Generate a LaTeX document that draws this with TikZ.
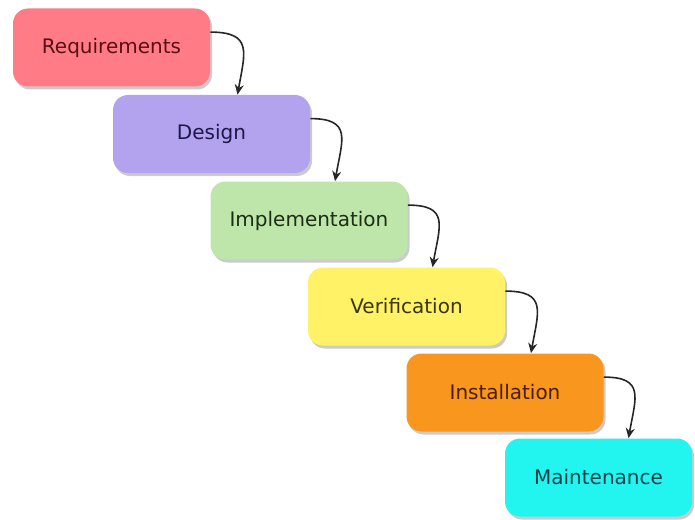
\documentclass[tikz,border=0pt]{standalone}
\usepackage{fontspec}
\setmainfont{DejaVu Sans}
\usetikzlibrary{shadows,arrows.meta}

\definecolor{reqfill}{HTML}{FF7B86}
\definecolor{desfill}{HTML}{B3A3EE}
\definecolor{impfill}{HTML}{BFE6AA}
\definecolor{verfill}{HTML}{FFF266}
\definecolor{insfill}{HTML}{F8961D}
\definecolor{maifill}{HTML}{22F4F0}
\definecolor{reqtext}{HTML}{5A0F14}
\definecolor{destext}{HTML}{1E1848}
\definecolor{imptext}{HTML}{1C2E14}
\definecolor{vertext}{HTML}{3A3608}
\definecolor{institle}{HTML}{4A1E02}
\definecolor{maitext}{HTML}{11424A}

\tikzset{
  phase/.style={rounded corners=7.5pt, minimum width=98.5pt, minimum height=39pt,
    font=\fontsize{10}{12}\selectfont, inner sep=0pt,
    drop shadow={shadow xshift=1pt, shadow yshift=-1.5pt, fill=black!45, opacity=0.45}},
  flow/.style={-{Stealth[length=5pt, width=4.5pt]}, thick, black!85}
}

\begin{document}
\begin{tikzpicture}[x=0.5pt, y=0.5pt]
      % Fix the margins of the picture
      \useasboundingbox (0,0) rectangle (695,-519);

      % Draw the phases as a staircase
      \node[phase, fill=reqfill, text=reqtext] (req) at (111.5,-47.5) {Requirements};
      \node[phase, fill=desfill, text=destext] (des) at (211.5,-134) {Design};
      \node[phase, fill=impfill, text=imptext] (imp) at (309,-220.5) {Implementation};
      \node[phase, fill=verfill, text=vertext] (ver) at (406.5,-306.5) {Verification};
      \node[phase, fill=insfill, text=institle] (ins) at (505,-392.5) {Installation};
      \node[phase, fill=maifill, text=maitext, minimum width=93.5pt] (mai) at (598.5,-477.5) {Maintenance};

      % Connect each phase to the next one
      \draw[flow] ([yshift=-12pt]req.north east) to[out=0, in=80, looseness=1.6] ([xshift=13pt]des.north);
      \draw[flow] ([yshift=-12pt]des.north east) to[out=0, in=80, looseness=1.6] ([xshift=13pt]imp.north);
      \draw[flow] ([yshift=-12pt]imp.north east) to[out=0, in=80, looseness=1.6] ([xshift=13pt]ver.north);
      \draw[flow] ([yshift=-12pt]ver.north east) to[out=0, in=80, looseness=1.6] ([xshift=13pt]ins.north);
      \draw[flow] ([yshift=-12pt]ins.north east) to[out=0, in=80, looseness=1.6] ([xshift=15pt]mai.north);
    \end{tikzpicture}
\end{document}
